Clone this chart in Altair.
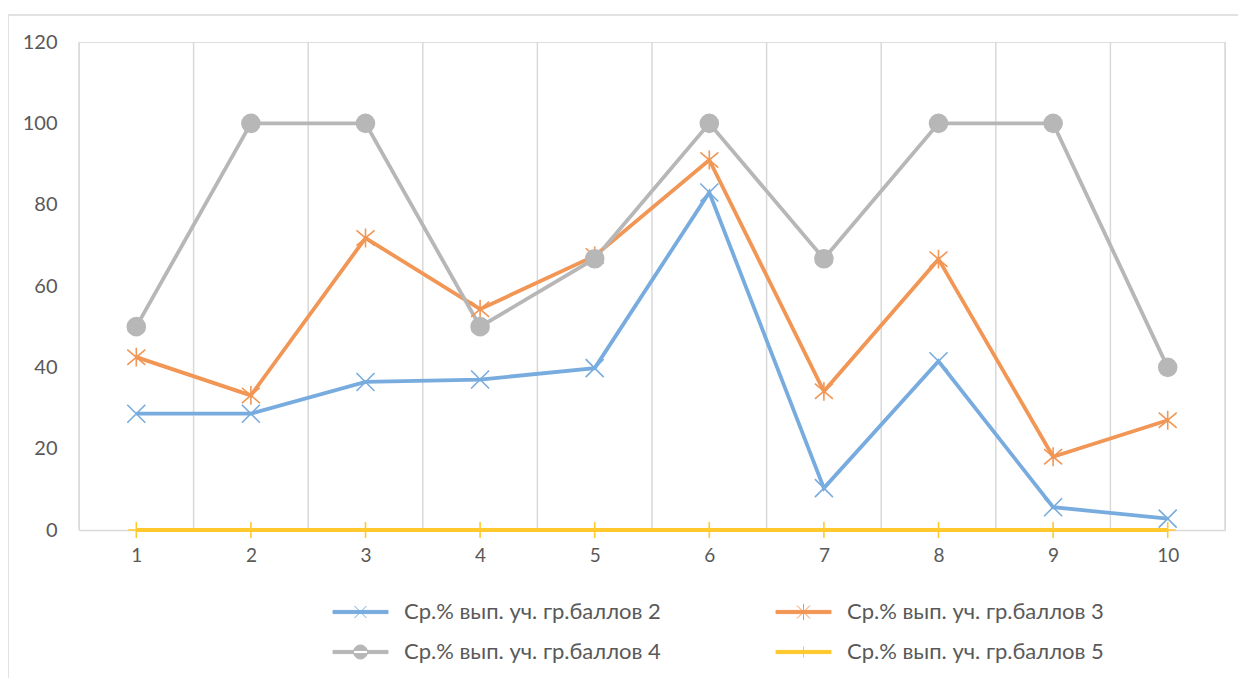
import altair as alt
import pandas as pd

categories = [1, 2, 3, 4, 5, 6, 7, 8, 9, 10]
series_names = [
    "Ср.% вып. уч. гр.баллов 2",
    "Ср.% вып. уч. гр.баллов 3",
    "Ср.% вып. уч. гр.баллов 4",
    "Ср.% вып. уч. гр.баллов 5",
]
s2 = [28.6, 28.6, 36.4, 37.0, 39.8, 83.0, 10.3, 41.5, 5.6, 2.8]
s3 = [42.5, 33.1, 71.8, 54.3, 67.4, 91.0, 34.1, 66.6, 18.0, 27.0]
s4 = [50, 100, 100, 50, 66.7, 100, 66.7, 100, 100, 40]
s5 = [0, 0, 0, 0, 0, 0, 0, 0, 0, 0]
y_ticks = [0, 20, 40, 60, 80, 100, 120]

colors = ["#78ACDE", "#F19654", "#B7B7B7", "#FFC92E"]
marker_shapes = [
    "M-1,-1L1,1M-1,1L1,-1",
    "M-1,-0.85L1,0.85M-1,0.85L1,-0.85M0,-1.05L0,1.05",
    "circle",
    "M-0.9,0L0.9,0M0,-0.9L0,0.9",
]
marker_fills = ["transparent", "transparent", colors[2], "transparent"]
base_line = "M-1,-0.16L4.5,-0.16L4.5,0.16L-1,0.16Z"
legend_shapes = [
    base_line + "M1.15,-0.6L2.35,0.6M1.15,0.6L2.35,-0.6",
    base_line + "M1.1,-0.65L2.4,0.65M1.1,0.65L2.4,-0.65M1.75,-0.8L1.75,0.8",
    base_line + "M1.05,0A0.7,0.7,0,1,0,2.45,0A0.7,0.7,0,1,0,1.05,0Z",
    base_line + "M1.75,-0.55L1.75,0.55",
]

rows = []
for name, vals in zip(series_names, [s2, s3, s4, s5]):
    for c, v in zip(categories, vals):
        rows.append({"cat": c, "value": v, "series": name})
df = pd.DataFrame(rows)

bounds = [c - 0.5 for c in categories] + [categories[-1] + 0.5]
grid_df = pd.DataFrame({"b": bounds})

FONT = "Lato"
GRID = "#D9D9D9"

x_scale = alt.Scale(domain=[categories[0] - 0.5, categories[-1] + 0.5], nice=False, zero=False)
y_scale = alt.Scale(domain=[0, 120], nice=False)

x_axis = alt.Axis(
    values=categories, format="d", title=None, grid=False, ticks=False,
    domain=True, domainColor=GRID, domainWidth=1.5,
    labelFont=FONT, labelFontSize=19, labelColor="#595959", labelPadding=16,
    zindex=0,
)
y_axis = alt.Axis(
    values=y_ticks, title=None, grid=False, ticks=False, domain=False,
    labelFont=FONT, labelFontSize=20, labelColor="#595959", labelPadding=22,
)

border = alt.Chart(alt.Data(values=[{"a": 1}])).mark_rect(
    fillOpacity=0, stroke=GRID, strokeWidth=1.5
).encode(x=alt.value(-71), x2=alt.value(1300), y=alt.value(-27), y2=alt.value(800))

grid = alt.Chart(grid_df).mark_rule(color=GRID, strokeWidth=1.5).encode(
    x=alt.X("b:Q", scale=x_scale, axis=x_axis),
    y=alt.datum(0, scale=y_scale, axis=y_axis),
    y2=alt.datum(120),
)

lines = alt.Chart(df).mark_line(strokeWidth=3.8).encode(
    x=alt.X("cat:Q", scale=x_scale, axis=x_axis),
    y=alt.Y("value:Q", scale=y_scale, axis=y_axis),
    color=alt.Color("series:N", scale=alt.Scale(domain=series_names, range=colors), legend=None),
    order=alt.Order("cat:Q"),
)

markers = alt.Chart(df).mark_point(filled=False, size=324, strokeWidth=1.6, opacity=1).encode(
    x=alt.X("cat:Q", scale=x_scale, axis=x_axis),
    y=alt.Y("value:Q", scale=y_scale, axis=y_axis),
    color=alt.Color("series:N", scale=alt.Scale(domain=series_names, range=colors), legend=None),
    shape=alt.Shape("series:N", scale=alt.Scale(domain=series_names, range=marker_shapes), legend=None),
    fill=alt.Fill("series:N", scale=alt.Scale(domain=series_names, range=marker_fills), legend=None),
)

leg = alt.Legend(
    title=None, orient="none", legendX=253, legendY=559, columns=2, direction="horizontal",
    columnPadding=113, rowPadding=18, padding=0,
    symbolSize=400, symbolStrokeWidth=1, labelOffset=50,
    labelFont=FONT, labelFontSize=22, labelColor="#595959", labelLimit=400,
)

legend_layer = alt.Chart(df).transform_filter(alt.datum.value < -1).mark_point(
    filled=False, size=400, strokeWidth=1, opacity=1
).encode(
    x=alt.X("cat:Q", scale=x_scale, axis=x_axis),
    y=alt.Y("value:Q", scale=y_scale, axis=y_axis),
    color=alt.Color("series:N", scale=alt.Scale(domain=series_names, range=colors), legend=leg),
    shape=alt.Shape("series:N", scale=alt.Scale(domain=series_names, range=legend_shapes), legend=leg),
    fill=alt.Fill("series:N", scale=alt.Scale(domain=series_names, range=colors), legend=leg),
)

chart = alt.layer(border, grid, lines, markers, legend_layer).resolve_scale(
    color="independent", shape="independent", fill="independent"
).properties(
    width=1146, height=488,
    autosize=alt.AutoSizeParams(type="none"),
    padding={"left": 71, "top": 34, "right": 13, "bottom": 148},
).configure_view(stroke=None).configure(background="white")

chart.save("out.html", embed_options={"renderer": "svg", "actions": False})
